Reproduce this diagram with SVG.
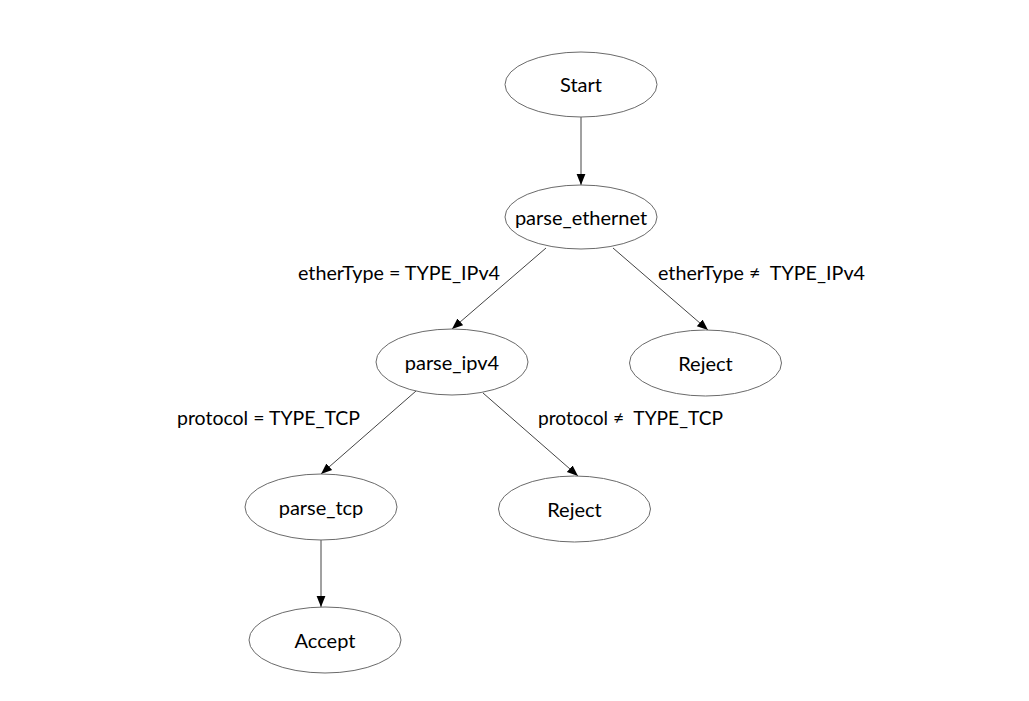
<svg xmlns="http://www.w3.org/2000/svg" width="1029" height="701" viewBox="0 0 1029 701">
<style>
.node ellipse{fill:#fff;stroke:#6a6a6a;stroke-width:1}
text{font-family:Lato,"Open Sans","Liberation Sans",sans-serif;font-size:20px;fill:#000}
.node text{text-anchor:middle;dominant-baseline:central}
.lbl{dominant-baseline:central}
#edges line{stroke:#444;stroke-width:1;marker-end:url(#arr)}
</style>
<defs>
<marker id="arr" viewBox="0 0 10 10" refX="10" refY="5" markerWidth="11" markerHeight="11" markerUnits="userSpaceOnUse" orient="auto">
<path d="M0,1 L10,5 L0,9 Z" fill="#000"/>
</marker>
</defs>
<rect width="1029" height="701" fill="#fff"/>
<g id="edges">
<line x1="581" y1="117" x2="581" y2="185"/>
<line x1="546" y1="248" x2="452" y2="329"/>
<line x1="613" y1="248" x2="708" y2="330"/>
<line x1="416" y1="391" x2="321" y2="474"/>
<line x1="483" y1="393" x2="578" y2="476"/>
<line x1="321" y1="540" x2="321" y2="607"/>
<text class="lbl" x="298" y="272" textLength="202" lengthAdjust="spacingAndGlyphs">etherType = TYPE_IPv4</text>
<text class="lbl" x="658" y="272" xml:space="preserve" textLength="207" lengthAdjust="spacingAndGlyphs">etherType ≠  TYPE_IPv4</text>
<text class="lbl" x="177" y="417" textLength="183" lengthAdjust="spacingAndGlyphs">protocol = TYPE_TCP</text>
<text class="lbl" x="538" y="417" xml:space="preserve" textLength="185" lengthAdjust="spacingAndGlyphs">protocol ≠  TYPE_TCP</text>
</g>
<g id="start" class="node"><ellipse cx="581" cy="84.5" rx="76" ry="32.5"/><text x="581" y="84">Start</text></g>
<g id="parse_ethernet" class="node"><ellipse cx="581" cy="217" rx="76" ry="32"/><text x="581" y="217">parse_ethernet</text></g>
<g id="parse_ipv4" class="node"><ellipse cx="452" cy="362" rx="76" ry="33"/><text x="452" y="362">parse_ipv4</text></g>
<g id="reject1" class="node"><ellipse cx="705.5" cy="363" rx="76" ry="33"/><text x="705.5" y="363">Reject</text></g>
<g id="parse_tcp" class="node"><ellipse cx="321" cy="507" rx="76" ry="33"/><text x="321" y="507">parse_tcp</text></g>
<g id="reject2" class="node"><ellipse cx="574.5" cy="509" rx="76" ry="33"/><text x="574.5" y="509">Reject</text></g>
<g id="accept" class="node"><ellipse cx="325" cy="640" rx="76" ry="33"/><text x="325" y="640">Accept</text></g>
</svg>
